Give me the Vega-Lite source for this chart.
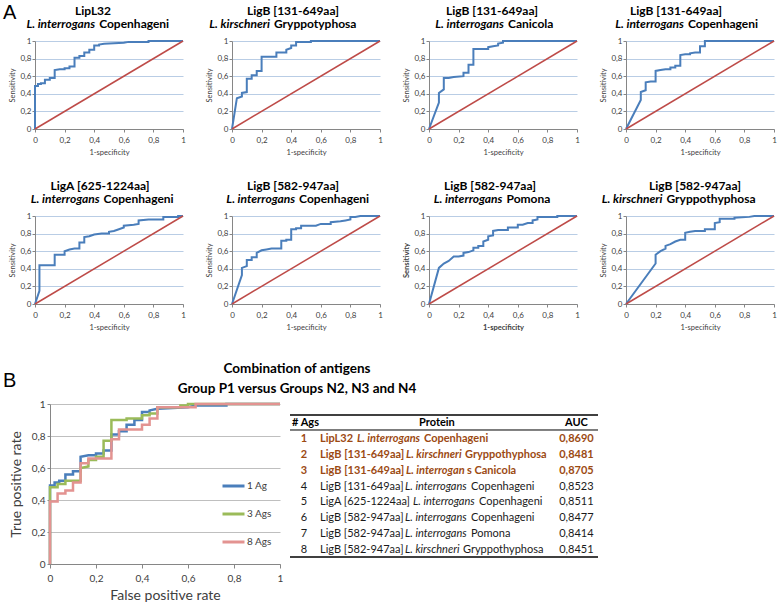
{
"$schema": "https://vega.github.io/schema/vega-lite/v6.json",
"padding": {"left": 3, "top": 3, "right": 0, "bottom": 0},
"bounds": "full",
"spacing": 31,
"resolve": {"scale": {"color": "independent"}, "legend": {"color": "independent"}},
"datasets": {
"p1": [{"x":0,"y":0},{"x":0,"y":0.49},{"x":0.02,"y":0.49},{"x":0.02,"y":0.51},{"x":0.04,"y":0.51},{"x":0.04,"y":0.52},{"x":0.067,"y":0.52},{"x":0.067,"y":0.56},{"x":0.1,"y":0.56},{"x":0.1,"y":0.58},{"x":0.133,"y":0.58},{"x":0.133,"y":0.67},{"x":0.167,"y":0.68},{"x":0.2,"y":0.68},{"x":0.2,"y":0.69},{"x":0.233,"y":0.69},{"x":0.233,"y":0.71},{"x":0.267,"y":0.71},{"x":0.267,"y":0.81},{"x":0.3,"y":0.81},{"x":0.3,"y":0.83},{"x":0.333,"y":0.83},{"x":0.333,"y":0.87},{"x":0.367,"y":0.87},{"x":0.367,"y":0.9},{"x":0.4,"y":0.9},{"x":0.4,"y":0.95},{"x":0.433,"y":0.95},{"x":0.433,"y":0.96},{"x":0.467,"y":0.97},{"x":0.6,"y":0.98},{"x":0.633,"y":0.99},{"x":0.767,"y":0.99},{"x":0.767,"y":1},{"x":1,"y":1}],
"p2": [{"x":0,"y":0},{"x":0.033,"y":0.35},{"x":0.067,"y":0.37},{"x":0.067,"y":0.41},{"x":0.1,"y":0.42},{"x":0.1,"y":0.57},{"x":0.133,"y":0.57},{"x":0.133,"y":0.61},{"x":0.167,"y":0.61},{"x":0.167,"y":0.66},{"x":0.2,"y":0.66},{"x":0.2,"y":0.82},{"x":0.3,"y":0.82},{"x":0.3,"y":0.87},{"x":0.367,"y":0.87},{"x":0.367,"y":0.9},{"x":0.4,"y":0.92},{"x":0.4,"y":0.95},{"x":0.433,"y":0.95},{"x":0.433,"y":0.99},{"x":0.533,"y":0.99},{"x":0.533,"y":1},{"x":1,"y":1}],
"p3": [{"x":0,"y":0},{"x":0.067,"y":0.3},{"x":0.067,"y":0.41},{"x":0.1,"y":0.45},{"x":0.1,"y":0.58},{"x":0.133,"y":0.58},{"x":0.167,"y":0.59},{"x":0.233,"y":0.6},{"x":0.233,"y":0.64},{"x":0.267,"y":0.64},{"x":0.267,"y":0.73},{"x":0.3,"y":0.73},{"x":0.3,"y":0.91},{"x":0.4,"y":0.91},{"x":0.4,"y":0.93},{"x":0.433,"y":0.94},{"x":0.467,"y":0.95},{"x":0.467,"y":0.97},{"x":0.5,"y":0.98},{"x":0.5,"y":1},{"x":1,"y":1}],
"p4": [{"x":0,"y":0},{"x":0.1,"y":0.33},{"x":0.1,"y":0.42},{"x":0.133,"y":0.44},{"x":0.133,"y":0.53},{"x":0.167,"y":0.54},{"x":0.2,"y":0.54},{"x":0.2,"y":0.66},{"x":0.233,"y":0.67},{"x":0.267,"y":0.68},{"x":0.3,"y":0.68},{"x":0.3,"y":0.7},{"x":0.333,"y":0.7},{"x":0.333,"y":0.72},{"x":0.367,"y":0.72},{"x":0.367,"y":0.84},{"x":0.4,"y":0.85},{"x":0.433,"y":0.85},{"x":0.433,"y":0.86},{"x":0.467,"y":0.87},{"x":0.5,"y":0.87},{"x":0.5,"y":0.94},{"x":0.533,"y":0.94},{"x":0.533,"y":1},{"x":1,"y":1}],
"p5": [{"x":0,"y":0},{"x":0.03,"y":0.15},{"x":0.03,"y":0.44},{"x":0.133,"y":0.44},{"x":0.133,"y":0.56},{"x":0.2,"y":0.56},{"x":0.2,"y":0.6},{"x":0.233,"y":0.62},{"x":0.267,"y":0.63},{"x":0.3,"y":0.63},{"x":0.3,"y":0.7},{"x":0.333,"y":0.7},{"x":0.333,"y":0.76},{"x":0.367,"y":0.77},{"x":0.4,"y":0.79},{"x":0.45,"y":0.8},{"x":0.5,"y":0.8},{"x":0.5,"y":0.82},{"x":0.533,"y":0.83},{"x":0.567,"y":0.85},{"x":0.6,"y":0.87},{"x":0.6,"y":0.89},{"x":0.667,"y":0.9},{"x":0.7,"y":0.91},{"x":0.7,"y":0.95},{"x":0.767,"y":0.96},{"x":0.867,"y":0.96},{"x":0.867,"y":0.99},{"x":0.967,"y":0.99},{"x":0.967,"y":1},{"x":1,"y":1}],
"p6": [{"x":0,"y":0},{"x":0.067,"y":0.33},{"x":0.067,"y":0.41},{"x":0.1,"y":0.43},{"x":0.1,"y":0.5},{"x":0.133,"y":0.5},{"x":0.133,"y":0.53},{"x":0.167,"y":0.53},{"x":0.167,"y":0.58},{"x":0.2,"y":0.61},{"x":0.233,"y":0.62},{"x":0.267,"y":0.63},{"x":0.333,"y":0.63},{"x":0.333,"y":0.72},{"x":0.367,"y":0.72},{"x":0.367,"y":0.73},{"x":0.4,"y":0.73},{"x":0.4,"y":0.85},{"x":0.433,"y":0.85},{"x":0.433,"y":0.86},{"x":0.467,"y":0.86},{"x":0.467,"y":0.89},{"x":0.567,"y":0.89},{"x":0.6,"y":0.91},{"x":0.667,"y":0.91},{"x":0.667,"y":0.93},{"x":0.733,"y":0.94},{"x":0.767,"y":0.95},{"x":0.8,"y":0.96},{"x":0.8,"y":0.99},{"x":0.833,"y":0.99},{"x":0.867,"y":1},{"x":1,"y":1}],
"p7": [{"x":0,"y":0},{"x":0.067,"y":0.41},{"x":0.1,"y":0.46},{"x":0.133,"y":0.49},{"x":0.167,"y":0.54},{"x":0.2,"y":0.54},{"x":0.233,"y":0.55},{"x":0.233,"y":0.58},{"x":0.267,"y":0.59},{"x":0.3,"y":0.61},{"x":0.3,"y":0.64},{"x":0.333,"y":0.64},{"x":0.333,"y":0.66},{"x":0.367,"y":0.66},{"x":0.367,"y":0.71},{"x":0.4,"y":0.73},{"x":0.4,"y":0.77},{"x":0.433,"y":0.78},{"x":0.433,"y":0.83},{"x":0.467,"y":0.84},{"x":0.533,"y":0.84},{"x":0.533,"y":0.87},{"x":0.6,"y":0.87},{"x":0.6,"y":0.9},{"x":0.633,"y":0.9},{"x":0.667,"y":0.92},{"x":0.7,"y":0.92},{"x":0.7,"y":0.95},{"x":0.733,"y":0.96},{"x":0.733,"y":0.99},{"x":0.867,"y":0.99},{"x":0.867,"y":1},{"x":1,"y":1}],
"p8": [{"x":0,"y":0},{"x":0.2,"y":0.46},{"x":0.2,"y":0.56},{"x":0.233,"y":0.6},{"x":0.267,"y":0.63},{"x":0.267,"y":0.66},{"x":0.3,"y":0.68},{"x":0.333,"y":0.71},{"x":0.367,"y":0.73},{"x":0.4,"y":0.73},{"x":0.4,"y":0.81},{"x":0.433,"y":0.82},{"x":0.467,"y":0.83},{"x":0.533,"y":0.83},{"x":0.533,"y":0.85},{"x":0.6,"y":0.85},{"x":0.6,"y":0.92},{"x":0.633,"y":0.93},{"x":0.633,"y":0.97},{"x":0.733,"y":0.97},{"x":0.733,"y":0.98},{"x":0.833,"y":0.99},{"x":0.867,"y":1},{"x":1,"y":1}],
"comb": [
{"s":"1 Ag","x":0,"y":0},{"s":"1 Ag","x":0,"y":0.49},{"s":"1 Ag","x":0.02,"y":0.49},{"s":"1 Ag","x":0.02,"y":0.51},{"s":"1 Ag","x":0.04,"y":0.51},{"s":"1 Ag","x":0.04,"y":0.52},{"s":"1 Ag","x":0.067,"y":0.52},{"s":"1 Ag","x":0.067,"y":0.56},{"s":"1 Ag","x":0.1,"y":0.56},{"s":"1 Ag","x":0.1,"y":0.58},{"s":"1 Ag","x":0.133,"y":0.58},{"s":"1 Ag","x":0.133,"y":0.67},{"s":"1 Ag","x":0.167,"y":0.68},{"s":"1 Ag","x":0.2,"y":0.68},{"s":"1 Ag","x":0.2,"y":0.69},{"s":"1 Ag","x":0.233,"y":0.69},{"s":"1 Ag","x":0.233,"y":0.71},{"s":"1 Ag","x":0.267,"y":0.71},{"s":"1 Ag","x":0.267,"y":0.81},{"s":"1 Ag","x":0.3,"y":0.81},{"s":"1 Ag","x":0.3,"y":0.83},{"s":"1 Ag","x":0.333,"y":0.83},{"s":"1 Ag","x":0.333,"y":0.87},{"s":"1 Ag","x":0.367,"y":0.87},{"s":"1 Ag","x":0.367,"y":0.9},{"s":"1 Ag","x":0.4,"y":0.9},{"s":"1 Ag","x":0.4,"y":0.95},{"s":"1 Ag","x":0.433,"y":0.95},{"s":"1 Ag","x":0.433,"y":0.96},{"s":"1 Ag","x":0.467,"y":0.97},{"s":"1 Ag","x":0.6,"y":0.98},{"s":"1 Ag","x":0.633,"y":0.99},{"s":"1 Ag","x":0.767,"y":0.99},{"s":"1 Ag","x":0.767,"y":1},{"s":"1 Ag","x":1,"y":1},
{"s":"3 Ags","x":0,"y":0},{"s":"3 Ags","x":0,"y":0.48},{"s":"3 Ags","x":0.033,"y":0.48},{"s":"3 Ags","x":0.033,"y":0.5},{"s":"3 Ags","x":0.067,"y":0.5},{"s":"3 Ags","x":0.067,"y":0.52},{"s":"3 Ags","x":0.133,"y":0.52},{"s":"3 Ags","x":0.133,"y":0.6},{"s":"3 Ags","x":0.167,"y":0.61},{"s":"3 Ags","x":0.167,"y":0.65},{"s":"3 Ags","x":0.2,"y":0.65},{"s":"3 Ags","x":0.2,"y":0.67},{"s":"3 Ags","x":0.233,"y":0.67},{"s":"3 Ags","x":0.233,"y":0.77},{"s":"3 Ags","x":0.267,"y":0.77},{"s":"3 Ags","x":0.267,"y":0.9},{"s":"3 Ags","x":0.333,"y":0.9},{"s":"3 Ags","x":0.333,"y":0.91},{"s":"3 Ags","x":0.4,"y":0.91},{"s":"3 Ags","x":0.4,"y":0.93},{"s":"3 Ags","x":0.433,"y":0.93},{"s":"3 Ags","x":0.433,"y":0.94},{"s":"3 Ags","x":0.467,"y":0.94},{"s":"3 Ags","x":0.467,"y":0.98},{"s":"3 Ags","x":0.567,"y":0.98},{"s":"3 Ags","x":0.567,"y":0.99},{"s":"3 Ags","x":0.6,"y":0.99},{"s":"3 Ags","x":0.6,"y":1},{"s":"3 Ags","x":1,"y":1},
{"s":"8 Ags","x":0,"y":0},{"s":"8 Ags","x":0,"y":0.39},{"s":"8 Ags","x":0.033,"y":0.39},{"s":"8 Ags","x":0.033,"y":0.44},{"s":"8 Ags","x":0.067,"y":0.44},{"s":"8 Ags","x":0.067,"y":0.46},{"s":"8 Ags","x":0.1,"y":0.46},{"s":"8 Ags","x":0.1,"y":0.51},{"s":"8 Ags","x":0.133,"y":0.51},{"s":"8 Ags","x":0.133,"y":0.63},{"s":"8 Ags","x":0.167,"y":0.63},{"s":"8 Ags","x":0.167,"y":0.66},{"s":"8 Ags","x":0.267,"y":0.66},{"s":"8 Ags","x":0.267,"y":0.78},{"s":"8 Ags","x":0.3,"y":0.78},{"s":"8 Ags","x":0.3,"y":0.84},{"s":"8 Ags","x":0.4,"y":0.84},{"s":"8 Ags","x":0.4,"y":0.87},{"s":"8 Ags","x":0.433,"y":0.87},{"s":"8 Ags","x":0.433,"y":0.91},{"s":"8 Ags","x":0.467,"y":0.91},{"s":"8 Ags","x":0.467,"y":0.98},{"s":"8 Ags","x":0.633,"y":0.98},{"s":"8 Ags","x":0.633,"y":1},{"s":"8 Ags","x":1,"y":1}],
"tbl": [
{"n":1,"prefix":"LipL32","species":"L. interrogans","serovar":"Copenhageni","auc":0.8690},
{"n":2,"prefix":"LigB [131-649aa]","species":"L. kirschneri","serovar":"Gryppothyphosa","auc":0.8481},
{"n":3,"prefix":"LigB [131-649aa]","species":"L. interrogan","serovar":"s Canicola","auc":0.8705},
{"n":4,"prefix":"LigB [131-649aa]","species":"L. interrogans","serovar":"Copenhageni","auc":0.8523},
{"n":5,"prefix":"LigA [625-1224aa]","species":"L. interrogans","serovar":"Copenhageni","auc":0.8511},
{"n":6,"prefix":"LigB [582-947aa]","species":"L. interrogans","serovar":"Copenhageni","auc":0.8477},
{"n":7,"prefix":"LigB [582-947aa]","species":"L. interrogans","serovar":"Pomona","auc":0.8414},
{"n":8,"prefix":"LigB [582-947aa]","species":"L. kirschneri","serovar":"Gryppothyphosa","auc":0.8451}]
},
"vconcat": [
{
"columns": 4,
"spacing": {"row": 87, "column": 49},
"bounds": "flush",
"concat": [
{"width":148,"height":88,
"layer":[
{"data":{"name":"p1"},"mark":{"type":"line","color":"#4a7ebb","strokeWidth":2},"encoding":{"x":{"field":"x","type":"quantitative","scale":{"domain":[0,1],"nice":false},"axis":{"values":[0,0.2,0.4,0.6,0.8,1],"tickCount":10,"format":"~g","labelOverlap":false,"title":"1-specificity"}},"y":{"field":"y","type":"quantitative","scale":{"domain":[0,1],"nice":false},"axis":{"values":[0,0.2,0.4,0.6,0.8,1],"tickCount":10,"format":"~g","labelOverlap":false,"title":"Sensitivity"}},"order":{"value":null}}},
{"data":{"values":[{}]},"mark":{"type":"rule","color":"#be4b48","strokeWidth":1.5},"encoding":{"x":{"datum":0,"type":"quantitative"},"y":{"datum":0,"type":"quantitative"},"x2":{"datum":1},"y2":{"datum":1}}},
{"data":{"values":[{}]},"mark":{"type":"text","fontSize":12,"fontWeight":"bold","align":"center","dx":-16,"dy":-30},"encoding":{"x":{"datum":0.5},"y":{"datum":1},"text":{"value":"LipL32"}}},
{"data":{"values":[{}]},"mark":{"type":"text","fontSize":12,"fontWeight":"bold","fontStyle":"italic","align":"right","dx":-2,"dy":-17},"encoding":{"x":{"datum":0.42},"y":{"datum":1},"text":{"value":"L. interrogans"}}},
{"data":{"values":[{}]},"mark":{"type":"text","fontSize":12,"fontWeight":"bold","align":"left","dx":2,"dy":-17},"encoding":{"x":{"datum":0.42},"y":{"datum":1},"text":{"value":"Copenhageni"}}},
{"data":{"values":[{}]},"mark":{"type":"text","fontSize":20,"font":"Liberation Sans","align":"left","baseline":"alphabetic"},"encoding":{"x":{"datum":-0.216},"y":{"datum":1.25},"text":{"value":"A"}}}
]},
{"width":148,"height":88,
"layer":[
{"data":{"name":"p2"},"mark":{"type":"line","color":"#4a7ebb","strokeWidth":2},"encoding":{"x":{"field":"x","type":"quantitative","scale":{"domain":[0,1],"nice":false},"axis":{"values":[0,0.2,0.4,0.6,0.8,1],"tickCount":10,"format":"~g","labelOverlap":false,"title":"1-specificity"}},"y":{"field":"y","type":"quantitative","scale":{"domain":[0,1],"nice":false},"axis":{"values":[0,0.2,0.4,0.6,0.8,1],"tickCount":10,"format":"~g","labelOverlap":false,"title":"Sensitivity"}},"order":{"value":null}}},
{"data":{"values":[{}]},"mark":{"type":"rule","color":"#be4b48","strokeWidth":1.5},"encoding":{"x":{"datum":0,"type":"quantitative"},"y":{"datum":0,"type":"quantitative"},"x2":{"datum":1},"y2":{"datum":1}}},
{"data":{"values":[{}]},"mark":{"type":"text","fontSize":12,"fontWeight":"bold","align":"center","dx":-13,"dy":-30},"encoding":{"x":{"datum":0.5},"y":{"datum":1},"text":{"value":"LigB [131-649aa]"}}},
{"data":{"values":[{}]},"mark":{"type":"text","fontSize":12,"fontWeight":"bold","fontStyle":"italic","align":"right","dx":-2,"dy":-17},"encoding":{"x":{"datum":0.27},"y":{"datum":1},"text":{"value":"L. kirschneri"}}},
{"data":{"values":[{}]},"mark":{"type":"text","fontSize":12,"fontWeight":"bold","align":"left","dx":2,"dy":-17},"encoding":{"x":{"datum":0.27},"y":{"datum":1},"text":{"value":"Gryppotyphosa"}}}
]},
{"width":148,"height":88,
"layer":[
{"data":{"name":"p3"},"mark":{"type":"line","color":"#4a7ebb","strokeWidth":2},"encoding":{"x":{"field":"x","type":"quantitative","scale":{"domain":[0,1],"nice":false},"axis":{"values":[0,0.2,0.4,0.6,0.8,1],"tickCount":10,"format":"~g","labelOverlap":false,"title":"1-specificity"}},"y":{"field":"y","type":"quantitative","scale":{"domain":[0,1],"nice":false},"axis":{"values":[0,0.2,0.4,0.6,0.8,1],"tickCount":10,"format":"~g","labelOverlap":false,"title":"Sensitivity"}},"order":{"value":null}}},
{"data":{"values":[{}]},"mark":{"type":"rule","color":"#be4b48","strokeWidth":1.5},"encoding":{"x":{"datum":0,"type":"quantitative"},"y":{"datum":0,"type":"quantitative"},"x2":{"datum":1},"y2":{"datum":1}}},
{"data":{"values":[{}]},"mark":{"type":"text","fontSize":12,"fontWeight":"bold","align":"center","dx":-11,"dy":-30},"encoding":{"x":{"datum":0.5},"y":{"datum":1},"text":{"value":"LigB [131-649aa]"}}},
{"data":{"values":[{}]},"mark":{"type":"text","fontSize":12,"fontWeight":"bold","fontStyle":"italic","align":"right","dx":-2,"dy":-17},"encoding":{"x":{"datum":0.52},"y":{"datum":1},"text":{"value":"L. interrogans"}}},
{"data":{"values":[{}]},"mark":{"type":"text","fontSize":12,"fontWeight":"bold","align":"left","dx":2,"dy":-17},"encoding":{"x":{"datum":0.52},"y":{"datum":1},"text":{"value":"Canicola"}}}
]},
{"width":148,"height":88,
"layer":[
{"data":{"name":"p4"},"mark":{"type":"line","color":"#4a7ebb","strokeWidth":2},"encoding":{"x":{"field":"x","type":"quantitative","scale":{"domain":[0,1],"nice":false},"axis":{"values":[0,0.2,0.4,0.6,0.8,1],"tickCount":10,"format":"~g","labelOverlap":false,"title":"1-specificity"}},"y":{"field":"y","type":"quantitative","scale":{"domain":[0,1],"nice":false},"axis":{"values":[0,0.2,0.4,0.6,0.8,1],"tickCount":10,"format":"~g","labelOverlap":false,"title":"Sensitivity"}},"order":{"value":null}}},
{"data":{"values":[{}]},"mark":{"type":"rule","color":"#be4b48","strokeWidth":1.5},"encoding":{"x":{"datum":0,"type":"quantitative"},"y":{"datum":0,"type":"quantitative"},"x2":{"datum":1},"y2":{"datum":1}}},
{"data":{"values":[{}]},"mark":{"type":"text","fontSize":12,"fontWeight":"bold","align":"center","dx":-24,"dy":-30},"encoding":{"x":{"datum":0.5},"y":{"datum":1},"text":{"value":"LigB [131-649aa]"}}},
{"data":{"values":[{}]},"mark":{"type":"text","fontSize":12,"fontWeight":"bold","fontStyle":"italic","align":"right","dx":-2,"dy":-17},"encoding":{"x":{"datum":0.405},"y":{"datum":1},"text":{"value":"L. interrogans"}}},
{"data":{"values":[{}]},"mark":{"type":"text","fontSize":12,"fontWeight":"bold","align":"left","dx":2,"dy":-17},"encoding":{"x":{"datum":0.405},"y":{"datum":1},"text":{"value":"Copenhageni"}}}
]},
{"width":148,"height":88,
"layer":[
{"data":{"name":"p5"},"mark":{"type":"line","color":"#4a7ebb","strokeWidth":2},"encoding":{"x":{"field":"x","type":"quantitative","scale":{"domain":[0,1],"nice":false},"axis":{"values":[0,0.2,0.4,0.6,0.8,1],"tickCount":10,"format":"~g","labelOverlap":false,"title":"1-specificity"}},"y":{"field":"y","type":"quantitative","scale":{"domain":[0,1],"nice":false},"axis":{"values":[0,0.2,0.4,0.6,0.8,1],"tickCount":10,"format":"~g","labelOverlap":false,"title":"Sensitivity"}},"order":{"value":null}}},
{"data":{"values":[{}]},"mark":{"type":"rule","color":"#be4b48","strokeWidth":1.5},"encoding":{"x":{"datum":0,"type":"quantitative"},"y":{"datum":0,"type":"quantitative"},"x2":{"datum":1},"y2":{"datum":1}}},
{"data":{"values":[{}]},"mark":{"type":"text","fontSize":12,"fontWeight":"bold","align":"center","dx":-9,"dy":-30},"encoding":{"x":{"datum":0.5},"y":{"datum":1},"text":{"value":"LigA [625-1224aa]"}}},
{"data":{"values":[{}]},"mark":{"type":"text","fontSize":12,"fontWeight":"bold","fontStyle":"italic","align":"right","dx":-2,"dy":-17},"encoding":{"x":{"datum":0.45},"y":{"datum":1},"text":{"value":"L. interrogans"}}},
{"data":{"values":[{}]},"mark":{"type":"text","fontSize":12,"fontWeight":"bold","align":"left","dx":2,"dy":-17},"encoding":{"x":{"datum":0.45},"y":{"datum":1},"text":{"value":"Copenhageni"}}}
]},
{"width":148,"height":88,
"layer":[
{"data":{"name":"p6"},"mark":{"type":"line","color":"#4a7ebb","strokeWidth":2},"encoding":{"x":{"field":"x","type":"quantitative","scale":{"domain":[0,1],"nice":false},"axis":{"values":[0,0.2,0.4,0.6,0.8,1],"tickCount":10,"format":"~g","labelOverlap":false,"title":"1-specificity"}},"y":{"field":"y","type":"quantitative","scale":{"domain":[0,1],"nice":false},"axis":{"values":[0,0.2,0.4,0.6,0.8,1],"tickCount":10,"format":"~g","labelOverlap":false,"title":"Sensitivity"}},"order":{"value":null}}},
{"data":{"values":[{}]},"mark":{"type":"rule","color":"#be4b48","strokeWidth":1.5},"encoding":{"x":{"datum":0,"type":"quantitative"},"y":{"datum":0,"type":"quantitative"},"x2":{"datum":1},"y2":{"datum":1}}},
{"data":{"values":[{}]},"mark":{"type":"text","fontSize":12,"fontWeight":"bold","align":"center","dx":-13,"dy":-30},"encoding":{"x":{"datum":0.5},"y":{"datum":1},"text":{"value":"LigB [582-947aa]"}}},
{"data":{"values":[{}]},"mark":{"type":"text","fontSize":12,"fontWeight":"bold","fontStyle":"italic","align":"right","dx":-2,"dy":-17},"encoding":{"x":{"datum":0.44},"y":{"datum":1},"text":{"value":"L. interrogans"}}},
{"data":{"values":[{}]},"mark":{"type":"text","fontSize":12,"fontWeight":"bold","align":"left","dx":2,"dy":-17},"encoding":{"x":{"datum":0.44},"y":{"datum":1},"text":{"value":"Copenhageni"}}}
]},
{"width":148,"height":88,
"layer":[
{"data":{"name":"p7"},"mark":{"type":"line","color":"#4a7ebb","strokeWidth":2},"encoding":{"x":{"field":"x","type":"quantitative","scale":{"domain":[0,1],"nice":false},"axis":{"values":[0,0.2,0.4,0.6,0.8,1],"tickCount":10,"format":"~g","labelOverlap":false,"title":"1-specificity","titleFontWeight":"bold"}},"y":{"field":"y","type":"quantitative","scale":{"domain":[0,1],"nice":false},"axis":{"values":[0,0.2,0.4,0.6,0.8,1],"tickCount":10,"format":"~g","labelOverlap":false,"title":"Sensitivity","titleFontWeight":"bold"}},"order":{"value":null}}},
{"data":{"values":[{}]},"mark":{"type":"rule","color":"#be4b48","strokeWidth":1.5},"encoding":{"x":{"datum":0,"type":"quantitative"},"y":{"datum":0,"type":"quantitative"},"x2":{"datum":1},"y2":{"datum":1}}},
{"data":{"values":[{}]},"mark":{"type":"text","fontSize":12,"fontWeight":"bold","align":"center","dx":-13,"dy":-30},"encoding":{"x":{"datum":0.5},"y":{"datum":1},"text":{"value":"LigB [582-947aa]"}}},
{"data":{"values":[{}]},"mark":{"type":"text","fontSize":12,"fontWeight":"bold","fontStyle":"italic","align":"right","dx":-2,"dy":-17},"encoding":{"x":{"datum":0.51},"y":{"datum":1},"text":{"value":"L. interrogans"}}},
{"data":{"values":[{}]},"mark":{"type":"text","fontSize":12,"fontWeight":"bold","align":"left","dx":2,"dy":-17},"encoding":{"x":{"datum":0.51},"y":{"datum":1},"text":{"value":"Pomona"}}}
]},
{"width":148,"height":88,
"layer":[
{"data":{"name":"p8"},"mark":{"type":"line","color":"#4a7ebb","strokeWidth":2},"encoding":{"x":{"field":"x","type":"quantitative","scale":{"domain":[0,1],"nice":false},"axis":{"values":[0,0.2,0.4,0.6,0.8,1],"tickCount":10,"format":"~g","labelOverlap":false,"title":"1-specificity"}},"y":{"field":"y","type":"quantitative","scale":{"domain":[0,1],"nice":false},"axis":{"values":[0,0.2,0.4,0.6,0.8,1],"tickCount":10,"format":"~g","labelOverlap":false,"title":"Sensitivity"}},"order":{"value":null}}},
{"data":{"values":[{}]},"mark":{"type":"rule","color":"#be4b48","strokeWidth":1.5},"encoding":{"x":{"datum":0,"type":"quantitative"},"y":{"datum":0,"type":"quantitative"},"x2":{"datum":1},"y2":{"datum":1}}},
{"data":{"values":[{}]},"mark":{"type":"text","fontSize":12,"fontWeight":"bold","align":"center","dx":-5,"dy":-30},"encoding":{"x":{"datum":0.5},"y":{"datum":1},"text":{"value":"LigB [582-947aa]"}}},
{"data":{"values":[{}]},"mark":{"type":"text","fontSize":12,"fontWeight":"bold","fontStyle":"italic","align":"right","dx":-2,"dy":-17},"encoding":{"x":{"datum":0.26},"y":{"datum":1},"text":{"value":"L. kirschneri"}}},
{"data":{"values":[{}]},"mark":{"type":"text","fontSize":12,"fontWeight":"bold","align":"left","dx":2,"dy":-17},"encoding":{"x":{"datum":0.26},"y":{"datum":1},"text":{"value":"Gryppothyphosa"}}}
]}
]
},
{
"spacing": 10,
"bounds": "flush",
"resolve": {"scale": {"color": "independent"}, "legend": {"color": "independent"}},
"hconcat": [
{"width":5,"height":160,"data":{"values":[]},"mark":"point","encoding":{}},
{"width":230,"height":160,
"layer":[
{"data":{"name":"comb"},"mark":{"type":"line","strokeWidth":2.5},"encoding":{
"x":{"field":"x","type":"quantitative","scale":{"domain":[0,1],"nice":false},"axis":{"values":[0,0.2,0.4,0.6,0.8,1],"tickCount":10,"format":"~g","labelOverlap":false,"title":"False positive rate","titleFontSize":14,"labelFontSize":10,"labelPadding":5,"tickSize":4,"titlePadding":5}},
"y":{"field":"y","type":"quantitative","scale":{"domain":[0,1],"nice":false},"axis":{"values":[0,0.2,0.4,0.6,0.8,1],"tickCount":10,"format":"~g","labelOverlap":false,"title":"True positive rate","titleFontSize":14,"labelFontSize":10,"labelPadding":2,"tickSize":3,"titlePadding":8,"gridColor":"#bfbfbf"}},
"color":{"field":"s","type":"nominal","scale":{"domain":["1 Ag","3 Ags","8 Ags"],"range":["#4a7ebb","#9bbb59","#e39391"]},"legend":{"title":null,"orient":"bottom-right","offset":8,"padding":0,"symbolType":"stroke","symbolStrokeWidth":3,"symbolSize":484,"labelFontSize":10,"labelColor":"#404040","clipHeight":28,"rowPadding":0,"labelOffset":1}},
"order":{"value":null}}},
{"data":{"values":[{}]},"mark":{"type":"text","fontSize":20,"font":"Liberation Sans","align":"left","baseline":"alphabetic"},"encoding":{"x":{"datum":-0.204},"y":{"datum":1.106},"text":{"value":"B"}}},
{"data":{"values":[{}]},"mark":{"type":"text","fontSize":13.5,"fontWeight":"bold","align":"center","dy":-35},"encoding":{"x":{"datum":1.074},"y":{"datum":1},"text":{"value":"Combination of antigens"}}},
{"data":{"values":[{}]},"mark":{"type":"text","fontSize":13.5,"fontWeight":"bold","align":"center","dy":-15},"encoding":{"x":{"datum":1.074},"y":{"datum":1},"text":{"value":"Group P1 versus Groups N2, N3 and N4"}}}
]},
{"width":308,"height":160,
"data":{"name":"tbl"},
"layer":[
{"data":{"values":[{}]},"mark":{"type":"rule","color":"#000000","strokeWidth":1.5},"encoding":{"x":{"datum":0,"type":"quantitative","scale":{"domain":[0,1]},"axis":null},"x2":{"datum":1},"y":{"datum":-0.503,"type":"quantitative","scale":{"domain":[-1.195,8.868],"reverse":true,"nice":false,"zero":false},"axis":null}}},
{"data":{"values":[{}]},"mark":{"type":"rule","color":"#000000","strokeWidth":1},"encoding":{"x":{"datum":0,"type":"quantitative","axis":null},"x2":{"datum":1},"y":{"datum":0.44,"type":"quantitative","axis":null}}},
{"data":{"values":[{}]},"mark":{"type":"rule","color":"#000000","strokeWidth":1.5},"encoding":{"x":{"datum":0,"type":"quantitative","axis":null},"x2":{"datum":1},"y":{"datum":8.43,"type":"quantitative","axis":null}}},
{"data":{"values":[{}]},"mark":{"type":"text","fontSize":11,"fontWeight":"bold","align":"left","color":"#000000"},"encoding":{"x":{"datum":0.0065,"type":"quantitative","axis":null},"y":{"datum":0,"type":"quantitative","axis":null},"text":{"value":"# Ags"}}},
{"data":{"values":[{}]},"mark":{"type":"text","fontSize":11,"fontWeight":"bold","align":"center","color":"#000000"},"encoding":{"x":{"datum":0.477,"type":"quantitative","axis":null},"y":{"datum":0,"type":"quantitative","axis":null},"text":{"value":"Protein"}}},
{"data":{"values":[{}]},"mark":{"type":"text","fontSize":11,"fontWeight":"bold","align":"center","color":"#000000"},"encoding":{"x":{"datum":0.93,"type":"quantitative","axis":null},"y":{"datum":0,"type":"quantitative","axis":null},"text":{"value":"AUC"}}},
{"transform":[{"filter":"datum.n <= 3"}],"mark":{"type":"text","fontSize":11,"fontWeight":"bold","align":"center","color":"#9c4a13"},"encoding":{"x":{"datum":0.045,"type":"quantitative","axis":null},"y":{"field":"n","type":"quantitative","axis":null},"text":{"field":"n"}}},
{"transform":[{"filter":"datum.n > 3"}],"mark":{"type":"text","fontSize":11,"align":"center","color":"#1a1a1a"},"encoding":{"x":{"datum":0.045,"type":"quantitative","axis":null},"y":{"field":"n","type":"quantitative","axis":null},"text":{"field":"n"}}},
{"transform":[{"filter":"datum.n <= 3"}],"mark":{"type":"text","fontSize":11,"fontWeight":"bold","align":"center","color":"#9c4a13"},"encoding":{"x":{"datum":0.93,"type":"quantitative","axis":null},"y":{"field":"n","type":"quantitative","axis":null},"text":{"field":"auc","format":".4f"}}},
{"transform":[{"filter":"datum.n > 3"}],"mark":{"type":"text","fontSize":11,"align":"center","color":"#1a1a1a"},"encoding":{"x":{"datum":0.93,"type":"quantitative","axis":null},"y":{"field":"n","type":"quantitative","axis":null},"text":{"field":"auc","format":".4f"}}},
{"transform":[{"filter":"datum.n <= 3"}],"mark":{"type":"text","fontSize":11,"fontWeight":"bold","align":"left","color":"#9c4a13"},"encoding":{"x":{"datum":0.0974,"type":"quantitative","axis":null},"y":{"field":"n","type":"quantitative","axis":null},"text":{"field":"prefix"}}},
{"transform":[{"filter":"datum.n > 3"}],"mark":{"type":"text","fontSize":11,"align":"left","color":"#1a1a1a"},"encoding":{"x":{"datum":0.0974,"type":"quantitative","axis":null},"y":{"field":"n","type":"quantitative","axis":null},"text":{"field":"prefix"}}},
{"transform":[{"filter":"datum.n == 1"}],"mark":{"type":"text","fontSize":11,"fontWeight":"bold","fontStyle":"italic","align":"left","color":"#9c4a13","dx":37},"encoding":{"x":{"datum":0.0974,"type":"quantitative","axis":null},"y":{"field":"n","type":"quantitative","axis":null},"text":{"field":"species"}}},
{"transform":[{"filter":"datum.n == 2 || datum.n == 3"}],"mark":{"type":"text","fontSize":11,"fontWeight":"bold","fontStyle":"italic","align":"left","color":"#9c4a13","dx":86},"encoding":{"x":{"datum":0.0974,"type":"quantitative","axis":null},"y":{"field":"n","type":"quantitative","axis":null},"text":{"field":"species"}}},
{"transform":[{"filter":"datum.n == 4 || datum.n >= 6"}],"mark":{"type":"text","fontSize":11,"fontStyle":"italic","align":"left","color":"#1a1a1a","dx":85},"encoding":{"x":{"datum":0.0974,"type":"quantitative","axis":null},"y":{"field":"n","type":"quantitative","axis":null},"text":{"field":"species"}}},
{"transform":[{"filter":"datum.n == 5"}],"mark":{"type":"text","fontSize":11,"fontStyle":"italic","align":"left","color":"#1a1a1a","dx":93},"encoding":{"x":{"datum":0.0974,"type":"quantitative","axis":null},"y":{"field":"n","type":"quantitative","axis":null},"text":{"field":"species"}}},
{"transform":[{"filter":"datum.n == 1"}],"mark":{"type":"text","fontSize":11,"fontWeight":"bold","align":"left","color":"#9c4a13","dx":104},"encoding":{"x":{"datum":0.0974,"type":"quantitative","axis":null},"y":{"field":"n","type":"quantitative","axis":null},"text":{"field":"serovar"}}},
{"transform":[{"filter":"datum.n == 2"}],"mark":{"type":"text","fontSize":11,"fontWeight":"bold","align":"left","color":"#9c4a13","dx":145},"encoding":{"x":{"datum":0.0974,"type":"quantitative","axis":null},"y":{"field":"n","type":"quantitative","axis":null},"text":{"field":"serovar"}}},
{"transform":[{"filter":"datum.n == 3"}],"mark":{"type":"text","fontSize":11,"fontWeight":"bold","align":"left","color":"#9c4a13","dx":147},"encoding":{"x":{"datum":0.0974,"type":"quantitative","axis":null},"y":{"field":"n","type":"quantitative","axis":null},"text":{"field":"serovar"}}},
{"transform":[{"filter":"datum.n == 4 || datum.n == 6 || datum.n == 7"}],"mark":{"type":"text","fontSize":11,"align":"left","color":"#1a1a1a","dx":151},"encoding":{"x":{"datum":0.0974,"type":"quantitative","axis":null},"y":{"field":"n","type":"quantitative","axis":null},"text":{"field":"serovar"}}},
{"transform":[{"filter":"datum.n == 5"}],"mark":{"type":"text","fontSize":11,"align":"left","color":"#1a1a1a","dx":159},"encoding":{"x":{"datum":0.0974,"type":"quantitative","axis":null},"y":{"field":"n","type":"quantitative","axis":null},"text":{"field":"serovar"}}},
{"transform":[{"filter":"datum.n == 8"}],"mark":{"type":"text","fontSize":11,"align":"left","color":"#1a1a1a","dx":143},"encoding":{"x":{"datum":0.0974,"type":"quantitative","axis":null},"y":{"field":"n","type":"quantitative","axis":null},"text":{"field":"serovar"}}}
]}
]
}
],
"config": {
"font": "Lato",
"locale": {"number": {"decimal": ",", "thousands": ".", "grouping": [3], "currency": ["", " €"]}},
"view": {"stroke": null},
"axis": {"labelFontSize": 8, "labelColor": "#404040", "titleFontSize": 7.5, "titleFontWeight": "normal", "titleColor": "#404040", "domainColor": "#868686", "tickColor": "#868686", "tickSize": 3, "labelFlush": false, "labelOverlap": false, "labelFont": "Lato", "titleFont": "Lato"},
"axisX": {"grid": false, "labelPadding": 4, "titlePadding": 4},
"axisY": {"grid": true, "gridColor": "#b9cde5", "labelPadding": 1, "titlePadding": 3},
"text": {"font": "Lato"}
}
}
